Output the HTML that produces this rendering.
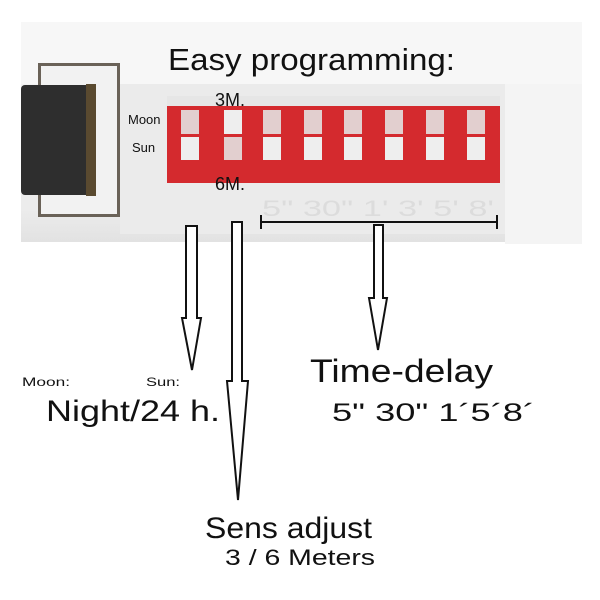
<!DOCTYPE html>
<html><head><meta charset="utf-8"><style>
html,body{margin:0;padding:0;background:#fff;}
svg{display:block;font-family:"Liberation Sans",sans-serif;}
</style></head><body>
<svg width="600" height="600" viewBox="0 0 600 600" xmlns="http://www.w3.org/2000/svg">
<defs>
<linearGradient id="pg" x1="0" y1="0" x2="0" y2="1">
<stop offset="0" stop-color="#f3f3f3"/><stop offset="0.85" stop-color="#ececec"/><stop offset="1" stop-color="#e2e2e2"/>
</linearGradient>
</defs>
<rect width="600" height="600" fill="#fff"/>
<!-- panel -->
<rect x="21" y="22" width="561" height="220" fill="url(#pg)"/>
<rect x="21" y="22" width="561" height="62" fill="#f7f7f7"/>
<rect x="505" y="84" width="77" height="160" fill="#f4f4f4"/>
<rect x="120" y="84" width="385" height="150" fill="#ebebeb"/>
<!-- connector frame -->
<rect x="38" y="63" width="82" height="154" fill="#6a6258"/>
<rect x="41" y="66" width="76" height="148" fill="#f2f2f2"/>
<rect x="21" y="85" width="74" height="110" fill="#2e2e2e" rx="4"/>
<rect x="86" y="84" width="10" height="112" fill="#5a4a30"/>
<!-- red block -->
<rect x="167" y="105" width="333" height="78" fill="#d42a2e"/>
<rect x="167" y="96" width="333" height="10" fill="#e6e6e6"/>
<g fill="#eeeeee">
<rect x="181" y="110" width="18" height="24" fill="#e2cfcf"/><rect x="181" y="137" width="18" height="23"/>
<rect x="224" y="110" width="18" height="24"/><rect x="224" y="137" width="18" height="23" fill="#e2cfcf"/>
<rect x="263" y="110" width="18" height="24" fill="#e2cfcf"/><rect x="263" y="137" width="18" height="23"/>
<rect x="304" y="110" width="18" height="24" fill="#e2cfcf"/><rect x="304" y="137" width="18" height="23"/>
<rect x="344" y="110" width="18" height="24" fill="#e2cfcf"/><rect x="344" y="137" width="18" height="23"/>
<rect x="385" y="110" width="18" height="24" fill="#e2cfcf"/><rect x="385" y="137" width="18" height="23"/>
<rect x="426" y="110" width="18" height="24" fill="#e2cfcf"/><rect x="426" y="137" width="18" height="23"/>
<rect x="467" y="110" width="18" height="24" fill="#e2cfcf"/><rect x="467" y="137" width="18" height="23"/>
</g>
<text x="262" y="216" font-size="22" fill="#dcdcdc" textLength="232" lengthAdjust="spacingAndGlyphs">5" 30" 1' 3' 5' 8'</text>
<!-- labels -->
<text x="168" y="70" font-size="31" fill="#111" textLength="287" lengthAdjust="spacingAndGlyphs">Easy programming:</text>
<text x="215" y="106" font-size="18" fill="#111">3M.</text>
<text x="215" y="190" font-size="18" fill="#111">6M.</text>
<text x="128" y="124" font-size="13" fill="#111">Moon</text>
<text x="132" y="152" font-size="13" fill="#111">Sun</text>
<!-- bracket -->
<g stroke="#111" stroke-width="2" fill="none">
<line x1="261" y1="222" x2="497" y2="222"/>
<line x1="261" y1="215" x2="261" y2="229"/>
<line x1="497" y1="215" x2="497" y2="229"/>
</g>
<!-- arrows -->
<g stroke="#111" stroke-width="2" fill="#fff" stroke-linejoin="miter">
<path d="M186 226 V318 H182 L192 370 L201 318 H197 V226 Z"/>
<path d="M232 222 V381 H227 L238 500 L248 381 H242 V222 Z"/>
<path d="M374 225 V298 H369 L378 350 L387 298 H383 V225 Z"/>
</g>
<text x="310" y="382" font-size="32" fill="#111" textLength="183" lengthAdjust="spacingAndGlyphs">Time-delay</text>
<text x="332" y="421" font-size="25" fill="#111" textLength="203" lengthAdjust="spacingAndGlyphs">5" 30" 1´5´8´</text>
<text x="22" y="386" font-size="12" fill="#111" textLength="48" lengthAdjust="spacingAndGlyphs">Moon:</text>
<text x="146" y="386" font-size="12" fill="#111" textLength="34" lengthAdjust="spacingAndGlyphs">Sun:</text>
<text x="46" y="421" font-size="30" fill="#111" textLength="174" lengthAdjust="spacingAndGlyphs">Night/24 h.</text>
<text x="205" y="538" font-size="30" fill="#111" textLength="167" lengthAdjust="spacingAndGlyphs">Sens adjust</text>
<text x="225" y="565" font-size="22" fill="#111" textLength="150" lengthAdjust="spacingAndGlyphs">3 / 6 Meters</text>
</svg>
</body></html>
